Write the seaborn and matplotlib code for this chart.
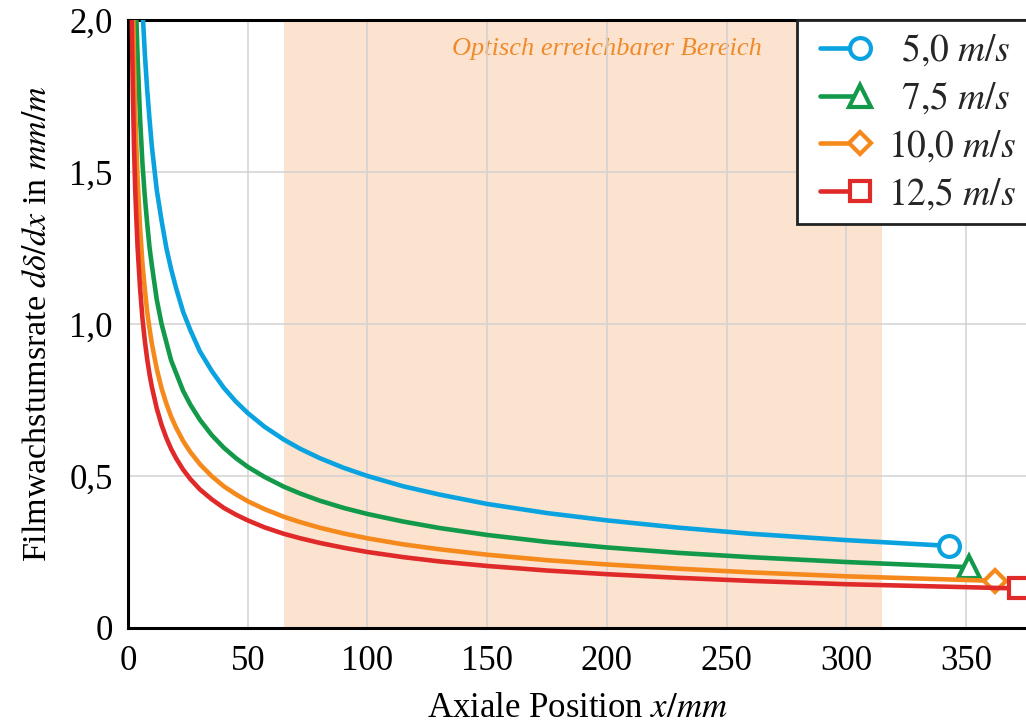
import numpy as np
import pandas as pd
import matplotlib
matplotlib.use("Agg")
import matplotlib.pyplot as plt
from matplotlib.legend_handler import HandlerLine2D
import seaborn as sns

# Axial positions (mm) shared by all curves; each curve adds its own end point
x_common = [1, 1.25, 1.5, 1.75, 2, 2.5, 3, 3.5, 4, 5, 6, 7, 8, 9, 10, 12, 14,
            16, 18, 20, 23, 26, 30, 35, 40, 45, 50, 57, 65, 72, 80, 90, 100,
            115, 130, 150, 175, 200, 230, 260, 300]

# Film growth rate dδ/dx (mm/m) for the four gas velocities
rate_5_0 = [5.00, 4.47, 4.08, 3.78, 3.54, 3.16, 2.89, 2.67, 2.50, 2.24, 2.04,
            1.89, 1.77, 1.67, 1.58, 1.44, 1.34, 1.25, 1.18, 1.12, 1.04, 0.98,
            0.91, 0.845, 0.79, 0.745, 0.707, 0.662, 0.62, 0.589, 0.559, 0.527,
            0.50, 0.466, 0.439, 0.408, 0.378, 0.354, 0.330, 0.310, 0.289]
rate_7_5 = [3.75, 3.35, 3.06, 2.83, 2.65, 2.37, 2.17, 2.00, 1.875, 1.68, 1.53,
            1.42, 1.33, 1.25, 1.19, 1.08, 1.00, 0.94, 0.88, 0.84, 0.78, 0.735,
            0.685, 0.634, 0.593, 0.559, 0.530, 0.497, 0.465, 0.442, 0.419,
            0.395, 0.375, 0.350, 0.329, 0.306, 0.283, 0.265, 0.247, 0.233,
            0.217]
rate_10_0 = [2.95, 2.64, 2.41, 2.23, 2.09, 1.87, 1.70, 1.58, 1.475, 1.32, 1.20,
             1.115, 1.04, 0.983, 0.933, 0.852, 0.788, 0.738, 0.695, 0.660,
             0.615, 0.579, 0.539, 0.499, 0.466, 0.440, 0.417, 0.391, 0.366,
             0.348, 0.330, 0.311, 0.295, 0.275, 0.259, 0.241, 0.223, 0.209,
             0.195, 0.183, 0.170]
rate_12_5 = [2.50, 2.24, 2.04, 1.89, 1.77, 1.58, 1.44, 1.34, 1.25, 1.12, 1.02,
             0.945, 0.884, 0.833, 0.791, 0.722, 0.668, 0.625, 0.589, 0.559,
             0.521, 0.490, 0.456, 0.423, 0.395, 0.373, 0.354, 0.331, 0.310,
             0.295, 0.280, 0.264, 0.250, 0.233, 0.219, 0.204, 0.189, 0.177,
             0.165, 0.155, 0.144]

end_x = [343, 351, 362, 372]
end_rate = [0.27, 0.20, 0.155, 0.13]

labels = [r"$\enspace\mathrm{5{,}0}\ m/s$", r"$\enspace\mathrm{7{,}5}\ m/s$",
          r"$\mathrm{10{,}0}\ m/s$", r"$\mathrm{12{,}5}\ m/s$"]
series = [rate_5_0, rate_7_5, rate_10_0, rate_12_5]
colors = ["#0aa3e0", "#12994a", "#f5891c", "#e02a2a"]
markers = ["o", "^", "D", "s"]
marker_sizes = [15, 16, 11.5, 15]

xticks = [0, 50, 100, 150, 200, 250, 300, 350]
xtick_labels = ["0", "50", "100", "150", "200", "250", "300", "350"]
yticks = [0, 0.5, 1.0, 1.5, 2.0]
ytick_labels = ["0", "0,5", "1,0", "1,5", "2,0"]

optical_range = (65, 315)


class EndMarkerHandler(HandlerLine2D):
    """Legend handle with the marker only at the right end of the line."""

    def create_artists(self, *args, **kwargs):
        artists = super().create_artists(*args, **kwargs)
        for art in artists:
            art.set_markevery([-1])
        return artists


sns.set_theme(style="white")
plt.rcParams["font.family"] = ["Liberation Serif", "DejaVu Serif"]
plt.rcParams["mathtext.fontset"] = "stix"

fig = plt.figure(figsize=(10.26, 7.24), dpi=100)
ax = fig.add_axes([0.1248, 0.1326, 0.8752, 0.8398])

ax.axvspan(*optical_range, color="#fbe3cf", zorder=0, lw=0)
ax.text(200, 1.905, "Optisch erreichbarer Bereich",
        color="#f08a2a", style="italic", fontsize=19, ha="center", va="center",
        zorder=0.4)

curves = []
for vals, ex, ey, lab, col, mk, ms in zip(series, end_x, end_rate, labels,
                                          colors, markers, marker_sizes):
    df = pd.DataFrame({"x": x_common + [ex], "rate": vals + [ey]})
    sns.lineplot(data=df, x="x", y="rate", color=col, lw=3.3, ax=ax,
                 legend=False, sort=False)
    line = ax.lines[-1]
    line.set_label(lab)
    line.set_marker(mk)
    line.set_markevery([-1])
    line.set_markersize(ms)
    line.set_markerfacecolor("white")
    line.set_markeredgecolor(col)
    line.set_markeredgewidth(3.0)
    line.set_solid_capstyle("round")
    line.set_zorder(3)
    curves.append(line)

ax.set_xlim(0, 375)
ax.set_ylim(0, 2.0)
ax.set_xticks(xticks)
ax.set_xticklabels(xtick_labels)
ax.set_yticks(yticks)
ax.set_yticklabels(ytick_labels)
ax.tick_params(axis="x", labelsize=25, colors="black", length=0, pad=12)
ax.tick_params(axis="y", labelsize=25, colors="black", length=0, pad=11)
ax.grid(True, color="#d2d2d2", lw=1.1)
ax.set_axisbelow(True)
for side in ["left", "bottom", "top"]:
    ax.spines[side].set_color("black")
    ax.spines[side].set_linewidth(2.2)
ax.spines["right"].set_visible(False)

ax.set_xlabel(r"Axiale Position $x/mm$", fontsize=25, color="black", labelpad=10)
ax.set_ylabel(r"Filmwachstumsrate $d\delta/dx$ in $mm/m$", fontsize=24.5,
              color="black", labelpad=12)

handler = EndMarkerHandler()
leg = ax.legend(handles=curves, loc="upper right", fontsize=27,
                frameon=True, fancybox=False, borderaxespad=0, numpoints=2,
                handlelength=1.65, handletextpad=0.45, labelspacing=0.3,
                borderpad=0.32, bbox_to_anchor=(1.002, 1.0),
                handler_map={c: handler for c in curves})
leg.get_frame().set_edgecolor("#222222")
leg.get_frame().set_linewidth(2.0)
leg.get_frame().set_alpha(1)

fig.savefig("out.png", dpi=100)
